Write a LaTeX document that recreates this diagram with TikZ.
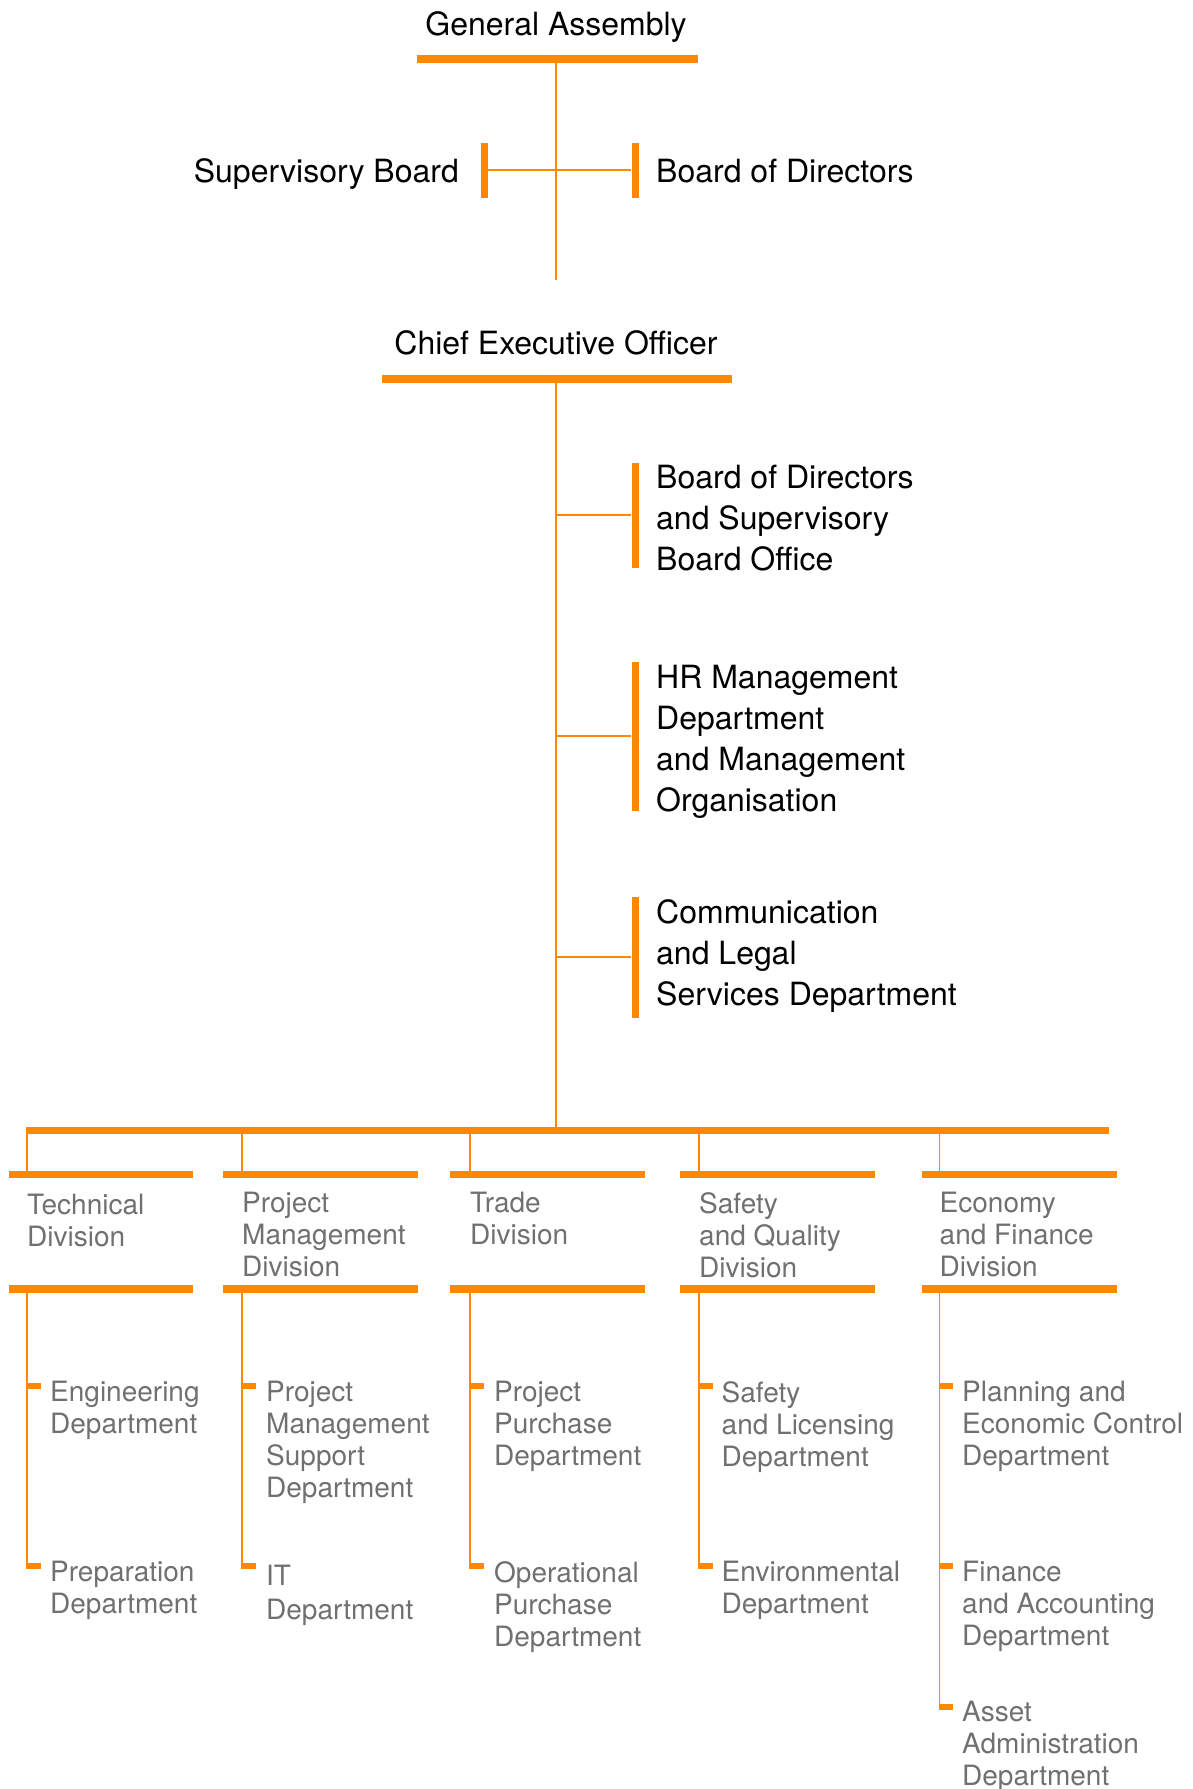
\documentclass[tikz,border=0pt]{standalone}
\usepackage{fontspec}
\setmainfont{TeX Gyre Heros}
\definecolor{orgorange}{RGB}{255,136,0}
\definecolor{orggray}{RGB}{112,112,112}
\tikzset{
  hbar/.style={fill=orgorange,inner sep=0pt,minimum height=7.5pt},
  vbar/.style={fill=orgorange,inner sep=0pt,minimum width=7pt},
  depttick/.style={fill=orgorange,inner sep=0pt,minimum width=14pt,minimum height=6pt,anchor=west},
  link/.style={draw=orgorange,line width=1.3pt},
  headtext/.style={font=\fontsize{32}{41}\selectfont,inner sep=0pt,align=left},
  divtext/.style={font=\fontsize{28}{32}\selectfont,text=orggray,inner sep=0pt,align=left,anchor=north west},
}
\begin{document}
\begin{tikzpicture}[x=1pt,y=-1pt]
    \useasboundingbox (0,0) rectangle (1193,1789);

    % top of the chart
    \node [headtext,anchor=base](ga)at(556,35){General Assembly};
    \node [hbar,minimum width=281pt](gabar)at(557,59){};
    \node [vbar,minimum height=55pt](sbbar)at(484,170){};
    \node [vbar,minimum height=55pt](bodbar)at(635,170){};
    \node [headtext,anchor=base east](sb)at(459,182){Supervisory Board};
    \node [headtext,anchor=base west](bod)at(656,182){Board of Directors};
    \coordinate (gaend)at(556,280);
    \node [headtext,anchor=base](ceo)at(556,354){Chief Executive Officer};
    \node [hbar,minimum width=350pt](ceobar)at(557,379){};

    \node [vbar,minimum height=105pt](o1bar)at(635,515){};
    \node [vbar,minimum height=149pt](o2bar)at(635,736){};
    \node [vbar,minimum height=121pt](o3bar)at(635,957){};
    \node [headtext,anchor=north west](o1)at(656,465){Board of Directors\\and Supervisory\\Board Office};
    \node [headtext,anchor=north west](o2)at(656,665){HR Management\\Department\\and Management\\Organisation};
    \node [headtext,anchor=north west](o3)at(656,899){Communication\\and Legal\\Services Department};

    \node [hbar,minimum width=1083pt](mainbar)at(567,1130.5){};

    % divisions
    \node [hbar,minimum width=184pt](d1top)at(101,1174.5){};
    \node [hbar,minimum width=195pt](d2top)at(320,1174.5){};
    \node [hbar,minimum width=195pt](d3top)at(547.5,1174.5){};
    \node [hbar,minimum width=195pt](d4top)at(777,1174.5){};
    \node [hbar,minimum width=195pt](d5top)at(1019,1174.5){};
    \node [divtext](d1)at(27,1194){Technical\\Division};
    \node [divtext](d2)at(242,1192){Project\\Management\\Division};
    \node [divtext](d3)at(470,1192){Trade\\Division};
    \node [divtext](d4)at(699,1192){Safety\\and Quality\\Division};
    \node [divtext](d5)at(939.5,1192){Economy\\and Finance\\Division};
    \node [hbar,minimum width=184pt](d1bot)at(101,1289){};
    \node [hbar,minimum width=195pt](d2bot)at(320,1289){};
    \node [hbar,minimum width=195pt](d3bot)at(547.5,1289){};
    \node [hbar,minimum width=195pt](d4bot)at(777,1289){};
    \node [hbar,minimum width=195pt](d5bot)at(1019,1289){};

    % departments
    \node [depttick](t11)at(26.5,1386){};
    \node [depttick](t12)at(26.5,1566){};
    \node [depttick](t21)at(241.5,1386){};
    \node [depttick](t22)at(241.5,1566){};
    \node [depttick](t31)at(469.5,1386){};
    \node [depttick](t32)at(469.5,1566){};
    \node [depttick](t41)at(698.5,1386){};
    \node [depttick](t42)at(698.5,1566){};
    \node [depttick](t51)at(939,1386){};
    \node [depttick](t52)at(939,1566){};
    \node [depttick](t53)at(939,1707){};
    \node [divtext](p11)at(50,1381){Engineering\\Department};
    \node [divtext](p12)at(50,1561){Preparation\\Department};
    \node [divtext](p21)at(266,1381){Project\\Management\\Support\\Department};
    \node [divtext,font=\fontsize{28}{34}\selectfont](p22)at(266,1565){IT\\Department};
    \node [divtext](p31)at(494,1381){Project\\Purchase\\Department};
    \node [divtext](p32)at(494,1561){Operational\\Purchase\\Department};
    \node [divtext](p41)at(721.5,1381){Safety\\and Licensing\\Department};
    \node [divtext](p42)at(721.5,1561){Environmental\\Department};
    \node [divtext](p51)at(962,1381){Planning and\\Economic Control\\Department};
    \node [divtext](p52)at(962,1561){Finance\\and Accounting\\Department};
    \node [divtext](p53)at(962,1701){Asset\\Administration\\Department};

    % connectors
    \draw [link](gabar.south -| ga)--(gaend);
    \draw [link](sbbar.east)--(bodbar.west);
    \draw [link](ceobar.south -| ceo)--(ceo |- mainbar.north);
    \draw [link](ceo |- o1bar.west)--(o1bar.west);
    \draw [link](ceo |- o2bar.west)--(o2bar.west);
    \draw [link](ceo |- o3bar.west)--(o3bar.west);
    \draw [link](d1.west |- mainbar.south)--(d1.west |- d1top.north);
    \draw [link](d2.west |- mainbar.south)--(d2.west |- d2top.north);
    \draw [link](d3.west |- mainbar.south)--(d3.west |- d3top.north);
    \draw [link](d4.west |- mainbar.south)--(d4.west |- d4top.north);
    \draw [link](d5.west |- mainbar.south)--(d5.west |- d5top.north);
    \draw [link](d1.west |- d1bot.south)--(d1.west |- t12.south);
    \draw [link](d2.west |- d2bot.south)--(d2.west |- t22.south);
    \draw [link](d3.west |- d3bot.south)--(d3.west |- t32.south);
    \draw [link](d4.west |- d4bot.south)--(d4.west |- t42.south);
    \draw [link](d5.west |- d5bot.south)--(d5.west |- t53.south);
\end{tikzpicture}
\end{document}
